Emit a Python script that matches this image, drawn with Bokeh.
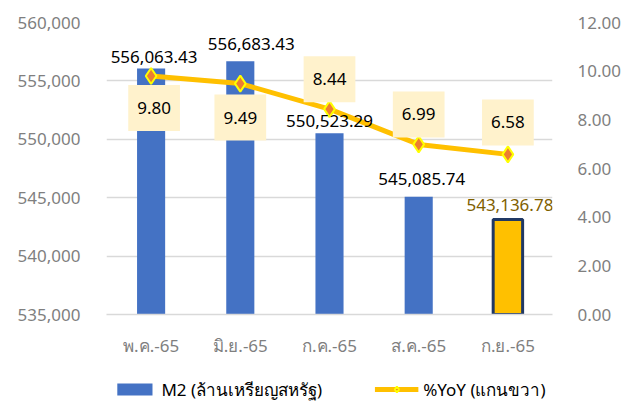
from bokeh.plotting import figure
from bokeh.layouts import column
from bokeh.models import (Range1d, LinearAxis, Label, Legend, LegendItem,
                          NumeralTickFormatter, FixedTicker)
from bokeh.embed import file_html
from bokeh.resources import INLINE

months = ["พ.ค.-65", "มิ.ย.-65", "ก.ค.-65", "ส.ค.-65", "ก.ย.-65"]
m2 = [556063.43, 556683.43, 550523.29, 545085.74, 543136.78]
yoy = [9.80, 9.49, 8.44, 6.99, 6.58]
left_ticks = [535000, 540000, 545000, 550000, 555000, 560000]
right_ticks = [0, 2, 4, 6, 8, 10, 12]
m2_name = "M2 (ล้านเหรียญสหรัฐ)"
yoy_name = "%YoY (แกนขวา)"

FONT = "Noto Sans"
BAR_BLUE = "#4472C4"
LINE_GOLD = "#FFC000"
p = figure(x_range=months, y_range=Range1d(535000, 560000),
           width=633, height=376, output_backend="svg", toolbar_location=None,
           min_border_left=106, min_border_right=81, min_border_top=22, min_border_bottom=62)
p.extra_y_ranges = {"yoy": Range1d(0, 12)}
p.outline_line_color = None
p.background_fill_color = "white"
p.border_fill_color = "white"

# bars
base = left_ticks[0]
p.vbar(x=months[:4], top=m2[:4], bottom=base, width=0.315,
       fill_color=BAR_BLUE, line_color=None)
p.vbar(x=months[4:], top=m2[4:], bottom=base, width=0.33,
       fill_color=LINE_GOLD, line_color="#203864", line_width=3)

# line
p.line(months, yoy, y_range_name="yoy", line_color=LINE_GOLD, line_width=5)
p.scatter(months, yoy, y_range_name="yoy", marker="diamond", size=16,
          fill_color="#ED7D31", line_color="#FFFF00", line_width=2)

# axes
p.yaxis.ticker = FixedTicker(ticks=left_ticks)
p.yaxis.formatter = NumeralTickFormatter(format="0,0")
ax_r = LinearAxis(y_range_name="yoy", ticker=FixedTicker(ticks=right_ticks),
                  formatter=NumeralTickFormatter(format="0.00"))
p.add_layout(ax_r, "right")
for ax in [p.yaxis[0], ax_r, p.xaxis[0]]:
    ax.major_tick_line_color = None
    ax.minor_tick_line_color = None
    ax.major_tick_out = 0
    ax.major_tick_in = 0
    ax.minor_tick_out = 0
    ax.major_label_text_font = FONT
    ax.major_label_text_font_size = "17px"
    ax.major_label_text_color = "#7F7F7F"
p.yaxis[0].axis_line_color = None
ax_r.axis_line_color = None
ax_r.major_label_text_align = "left"
p.yaxis[0].major_label_standoff = 26
ax_r.major_label_standoff = 25
p.xaxis.axis_line_color = "#D9D9D9"
p.xaxis.axis_line_width = 1.5
p.xaxis.major_label_standoff = 19
p.xgrid.grid_line_color = None
p.ygrid.grid_line_color = "#D9D9D9"
p.ygrid.grid_line_width = 1.5

# bar value labels (x = category centre in synthetic coordinates)
bar_dx = [3, 11, 0, 3, 2]
bar_dy = [11, 17, 12, 18, 14]
for i, v in enumerate(m2):
    p.add_layout(Label(x=i + 0.5, y=v, text=f"{v:,.2f}", x_offset=bar_dx[i], y_offset=bar_dy[i],
                       text_align="center", text_baseline="middle",
                       text_font=FONT, text_font_size="17px",
                       text_color="#7F6000" if i == 4 else "black"))

# yoy labels with boxes
yoy_dx = [3, 0, 0, 0, 0]
yoy_dy = [-32, -34, 30, 30, 32]
for i, v in enumerate(yoy):
    p.add_layout(Label(x=i + 0.5, y=v, y_range_name="yoy", text=f"{v:.2f}",
                       x_offset=yoy_dx[i], y_offset=yoy_dy[i],
                       text_align="center", text_baseline="middle",
                       text_font=FONT, text_font_size="17px", text_color="black",
                       background_fill_color="#FFF2CC",
                       padding=dict(left=9, right=9, top=17, bottom=17)))

# legend strip under the chart (hidden copies of the series supply the legend glyphs)
lf = figure(width=633, height=25, output_backend="svg", toolbar_location=None,
            x_range=months, y_range=Range1d(0, 12),
            x_axis_type=None, y_axis_type=None, min_border=0)
lf.outline_line_color = None
lf.xgrid.grid_line_color = None
lf.ygrid.grid_line_color = None
lb = lf.vbar(x=months, top=yoy, width=0.3, fill_color=BAR_BLUE, line_color=None, visible=False)
ll = lf.line(x=months, y=yoy, line_color=LINE_GOLD, line_width=5, visible=False)
lm = lf.scatter(x=months, y=yoy, marker="diamond", size=16,
                fill_color="#ED7D31", line_color="#FFFF00", line_width=2, visible=False)
lg = Legend(items=[LegendItem(label=m2_name, renderers=[lb]),
                   LegendItem(label=yoy_name, renderers=[ll, lm])],
            location="center", orientation="horizontal",
            glyph_width=44, glyph_height=15, label_standoff=5,
            spacing=52, padding=0, margin=0, border_line_color=None,
            background_fill_alpha=0, label_text_font=FONT,
            label_text_font_size="17px", label_text_color="black")
lf.add_layout(lg)

open("out.html", "w").write(file_html(column(p, lf, spacing=0), INLINE))
